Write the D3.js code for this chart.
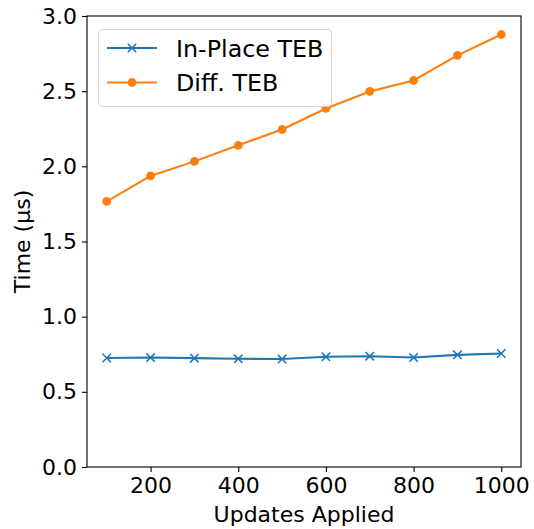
<!DOCTYPE html>
<html>
<head>
<meta charset="utf-8">
<script src="https://cdn.jsdelivr.net/npm/d3@7"></script>
<style>
  body { margin: 0; background: #fff; }
  svg { display: block; font-family: "DejaVu Sans", sans-serif; }
</style>
</head>
<body>
<div id="chart"></div>
<script>
// Values
const updates = [100, 200, 300, 400, 500, 600, 700, 800, 900, 1000];
const inPlaceTEB = [0.725, 0.728, 0.724, 0.720, 0.718, 0.733, 0.737, 0.728, 0.746, 0.755];
const diffTEB = [1.767, 1.936, 2.033, 2.140, 2.245, 2.385, 2.498, 2.571, 2.738, 2.877];
const xTicks = [200, 400, 600, 800, 1000];
const yTicks = [0, 0.5, 1.0, 1.5, 2.0, 2.5, 3.0];

const width = 534, height = 529;
const margin = { top: 16, right: 13, bottom: 62, left: 87 };
const innerW = width - margin.left - margin.right;
const innerH = height - margin.top - margin.bottom;

const svg = d3.select('#chart').append('svg')
    .attr('width', width)
    .attr('height', height);

const g = svg.append('g')
    .attr('transform', `translate(${margin.left},${margin.top})`);

const x = d3.scaleLinear().domain([55, 1045]).range([0, innerW]);
const y = d3.scaleLinear().domain([0, 3.0]).range([innerH, 0]);

// Axes
const xAxis = g.append('g')
    .attr('transform', `translate(0,${innerH})`)
    .call(d3.axisBottom(x).tickValues(xTicks).tickSize(5).tickPadding(5).tickFormat(d3.format('d')));
const yAxis = g.append('g')
    .call(d3.axisLeft(y).tickValues(yTicks).tickSize(5).tickPadding(5).tickFormat(d3.format('.1f')));

[xAxis, yAxis].forEach(a => {
    a.select('.domain').remove();
    a.selectAll('text').attr('font-size', 22).attr('font-family', '"DejaVu Sans", sans-serif').attr('fill', '#000');
    a.selectAll('line').attr('stroke', '#000').attr('stroke-width', 1.1);
});

// Frame
g.append('rect')
    .attr('width', innerW)
    .attr('height', innerH)
    .attr('fill', 'none')
    .attr('stroke', '#000')
    .attr('stroke-width', 1.1);

// Axis labels
svg.append('text')
    .attr('x', margin.left + innerW / 2)
    .attr('y', 522)
    .attr('text-anchor', 'middle')
    .attr('font-size', 22)
    .text('Updates Applied');

svg.append('text')
    .attr('transform', `translate(30,${margin.top + innerH / 2}) rotate(-90)`)
    .attr('text-anchor', 'middle')
    .attr('font-size', 22)
    .text('Time (μs)');

// Series
const series = [
    { name: 'In-Place TEB', values: inPlaceTEB, color: '#1f77b4', marker: 'x' },
    { name: 'Diff. TEB', values: diffTEB, color: '#ff7f0e', marker: 'o' }
];

const line = d3.line()
    .x((d, i) => x(updates[i]))
    .y(d => y(d));

function drawMarker(sel, s, cx, cy) {
    if (s.marker === 'o') {
        sel.append('circle')
            .attr('cx', cx).attr('cy', cy).attr('r', 4.4)
            .attr('fill', s.color);
    } else {
        const r = 4.2;
        sel.append('path')
            .attr('d', `M${cx - r},${cy - r}L${cx + r},${cy + r}M${cx - r},${cy + r}L${cx + r},${cy - r}`)
            .attr('stroke', s.color)
            .attr('stroke-width', 1.6)
            .attr('fill', 'none');
    }
}

series.forEach(s => {
    g.append('path')
        .datum(s.values)
        .attr('fill', 'none')
        .attr('stroke', s.color)
        .attr('stroke-width', 2.1)
        .attr('d', line);
    const mg = g.append('g');
    s.values.forEach((v, i) => drawMarker(mg, s, x(updates[i]), y(v)));
});

// Legend
const legend = svg.append('g');
legend.append('rect')
    .attr('x', 98.5).attr('y', 29.5)
    .attr('width', 233).attr('height', 77)
    .attr('rx', 4)
    .attr('fill', '#fff')
    .attr('fill-opacity', 0.8)
    .attr('stroke', '#d6d6d6')
    .attr('stroke-width', 1.1);

series.forEach((s, i) => {
    const cy = 48 + i * 34.5;
    legend.append('line')
        .attr('x1', 107).attr('x2', 157)
        .attr('y1', cy).attr('y2', cy)
        .attr('stroke', s.color)
        .attr('stroke-width', 2.1);
    drawMarker(legend, s, 132, cy);
    legend.append('text')
        .attr('x', 176).attr('y', cy)
        .attr('dy', '0.36em')
        .attr('font-size', 23.8)
        .text(s.name);
});
</script>
</body>
</html>
